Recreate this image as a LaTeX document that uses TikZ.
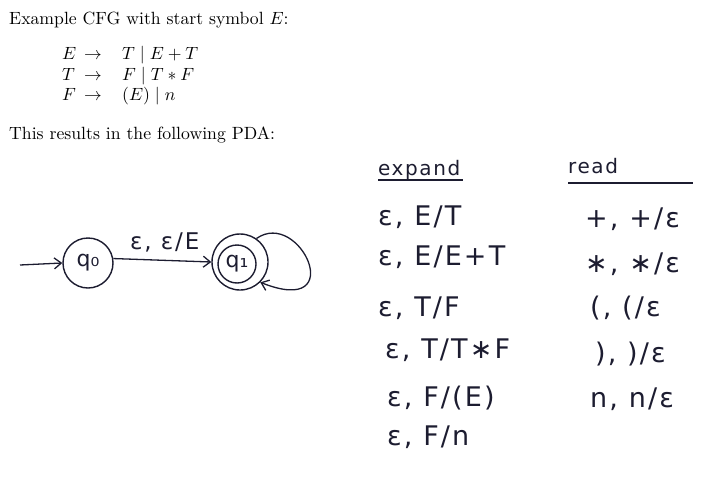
\documentclass[tikz,border=0pt]{standalone}
\usepackage{fontspec}
\usetikzlibrary{arrows.meta}
\newfontfamily\hw[LetterSpace=8]{DejaVu Sans}
\newfontfamily\hwplain{DejaVu Sans}
\definecolor{ink}{RGB}{28,28,48}
\newcommand{\bigtxt}[1]{\scalebox{1.77}{#1}}
\begin{document}
\begin{tikzpicture}[x=1pt,y=-1pt]
\useasboundingbox (0,0) rectangle (727,495);
\tikzset{
  txt/.style={anchor=base west, inner sep=0pt, font=\fontsize{10}{12}\selectfont},
  hand/.style={anchor=base west, inner sep=0pt, text=ink, font=\hw\fontsize{27}{30}\selectfont},
  handhead/.style={anchor=base west, inner sep=0pt, text=ink, font=\hw\fontsize{20}{24}\selectfont},
  pstate/.style={circle, draw=ink, line width=1.4pt, inner sep=0pt, text=ink, font=\hwplain\fontsize{22}{24}\selectfont},
  edge/.style={draw=ink, line width=1.3pt, -{Straight Barb[length=7pt,width=11pt]}},
  rule/.style={draw=ink, line width=1.3pt},
}
% ---------- printed text ----------
\node[txt] (l1) at (9,25) {\bigtxt{Example CFG with start symbol $E$:}};
\node[txt] (g1l) at (62,59.5) {\bigtxt{$E$}};
\node[txt] (g1a) at (84,59.5) {\bigtxt{$\rightarrow$}};
\node[txt] (g1r) at (122,59.5) {\bigtxt{$T \mid E + T$}};
\node[txt] (g2l) at (62,80.5) {\bigtxt{$T$}};
\node[txt] (g2a) at (84,80.5) {\bigtxt{$\rightarrow$}};
\node[txt] (g2r) at (122,80.5) {\bigtxt{$F \mid T \ast F$}};
\node[txt] (g3l) at (62,100.5) {\bigtxt{$F$}};
\node[txt] (g3a) at (84,100.5) {\bigtxt{$\rightarrow$}};
\node[txt] (g3r) at (122,100.5) {\bigtxt{$(E) \mid n$}};
\node[txt] (l2) at (9,139) {\bigtxt{This results in the following PDA:}};
% ---------- PDA ----------
\node[pstate, minimum size=50pt] (q0) at (88,263) {q₀};
\node[pstate, minimum size=56pt] (q1) at (240,262) {};
\node[pstate, minimum size=38pt] (q1in) at (237,264) {q₁};
\coordinate (start) at (20,265);
\draw[edge] (start) -- (q0.west);
\draw[edge] (q0.10) -- (q1.180);
\node[hand, font=\hw\fontsize{23}{26}\selectfont] (lab) at (130,249) {ε, ε/E};
\draw[edge] (q1.55) .. controls (300,208) and (350,318) .. (q1.-45);
% ---------- table ----------
\node[handhead] (hexp) at (378,175) {expand};
\node[handhead] (hread) at (568,173) {read};
\coordinate (u1a) at (378,180); \coordinate (u1b) at (463,180);
\coordinate (u2a) at (568,183); \coordinate (u2b) at (693,183);
\draw[rule] (u1a) -- (u1b);
\draw[rule] (u2a) -- (u2b);
\node[hand] (e1) at (378,225) {ε, E/T};
\node[hand] (e2) at (378,265) {ε, E/E+T};
\node[hand] (e3) at (378,316) {ε, T/F};
\node[hand] (e4) at (385,358) {ε, T/T∗F};
\node[hand] (e5) at (387,406) {ε, F/(E)};
\node[hand] (e6) at (387,445) {ε, F/n};
\node[hand] (r1) at (585,227) {+, +/ε};
\node[hand] (r2) at (585,272) {∗, ∗/ε};
\node[hand] (r3) at (590,316) {(, (/ε};
\node[hand] (r4) at (595,362) {), )/ε};
\node[hand] (r5) at (590,407) {n, n/ε};
\end{tikzpicture}
\end{document}
